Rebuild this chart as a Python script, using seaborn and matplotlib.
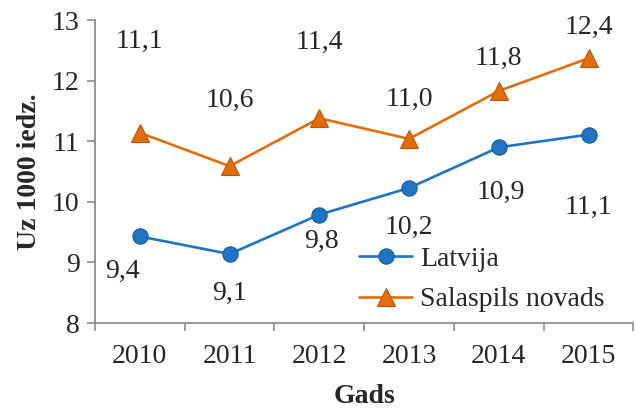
import pandas as pd
import numpy as np
import matplotlib.pyplot as plt
import seaborn as sns

# Data
years = [2010, 2011, 2012, 2013, 2014, 2015]
latvija = [9.43, 9.14, 9.79, 10.23, 10.90, 11.11]
salaspils = [11.14, 10.59, 11.38, 11.04, 11.83, 12.37]

# label offsets in pixels (dx, dy), as hand-placed in the original
lat_offsets = [(-17, -35), (0, -39), (2, -27), (0, -39), (2, -45), (0, -73)]
sal_offsets = [(0, 91), (0, 66), (0, 76), (0, 39), (0, 33), (0, 31)]

df = pd.DataFrame({
    'Gads': years * 2,
    'value': latvija + salaspils,
    'series': ['Latvija'] * 6 + ['Salaspils novads'] * 6,
})

sns.set_style('white')
plt.rcParams['font.family'] = ['Liberation Serif', 'DejaVu Serif']

blue = '#1F74C4'
orange = '#E46C0A'
fs = 20

fig = plt.figure(figsize=(6.35, 4.09), dpi=100)
ax = fig.add_axes([0.1496, 0.21, 0.848, 0.741])

sns.lineplot(data=df, x='Gads', y='value', hue='series', style='series',
             palette={'Latvija': blue, 'Salaspils novads': orange},
             markers={'Latvija': 'o', 'Salaspils novads': '^'},
             dashes=False, linewidth=1.9, ax=ax, markersize=11)
for line in ax.lines:
    line.set_markeredgecolor('#1a5a9a' if line.get_color() == blue else '#b8560a')
    line.set_markeredgewidth(0.8)
    if line.get_marker() == '^':
        line.set_markersize(13)

def fmt(v):
    return f'{v:.1f}'.replace('.', ',')

for x, v, off in zip(years, latvija, lat_offsets):
    ax.annotate(fmt(v), (x, v), xytext=off, textcoords='offset pixels',
                ha='center', va='center', fontsize=fs)
for x, v, off in zip(years, salaspils, sal_offsets):
    ax.annotate(fmt(v), (x, v), xytext=off, textcoords='offset pixels',
                ha='center', va='center', fontsize=fs)

ax.set_ylim(8, 13)
ax.set_xlim(2009.5, 2015.5)
ax.set_yticks(range(8, 14))
ax.set_xticks(years)
ax.set_xticks(np.arange(2009.5, 2016, 1), minor=True)
ax.tick_params(axis='x', which='major', length=0, labelsize=fs, pad=15)
ax.tick_params(axis='x', which='minor', length=6, width=1.2, color='#8c8c8c', bottom=True)
ax.tick_params(axis='y', length=6, width=1.2, color='#8c8c8c', labelsize=fs, pad=5, left=True)

for s in ['top', 'right']:
    ax.spines[s].set_visible(False)
for s in ['left', 'bottom']:
    ax.spines[s].set_color('#8c8c8c')
    ax.spines[s].set_linewidth(1.3)

ax.set_xlabel('Gads', fontsize=fs, fontweight='bold', labelpad=11)
ax.set_ylabel('Uz 1000 iedz.', fontsize=fs, fontweight='bold', labelpad=7)

leg = ax.legend(loc='upper left', bbox_to_anchor=(0.47, 0.29), frameon=False,
                fontsize=fs, handlelength=1.9, handletextpad=0.3,
                labelspacing=0.55, borderaxespad=0)

fig.savefig('out.png', dpi=100)
